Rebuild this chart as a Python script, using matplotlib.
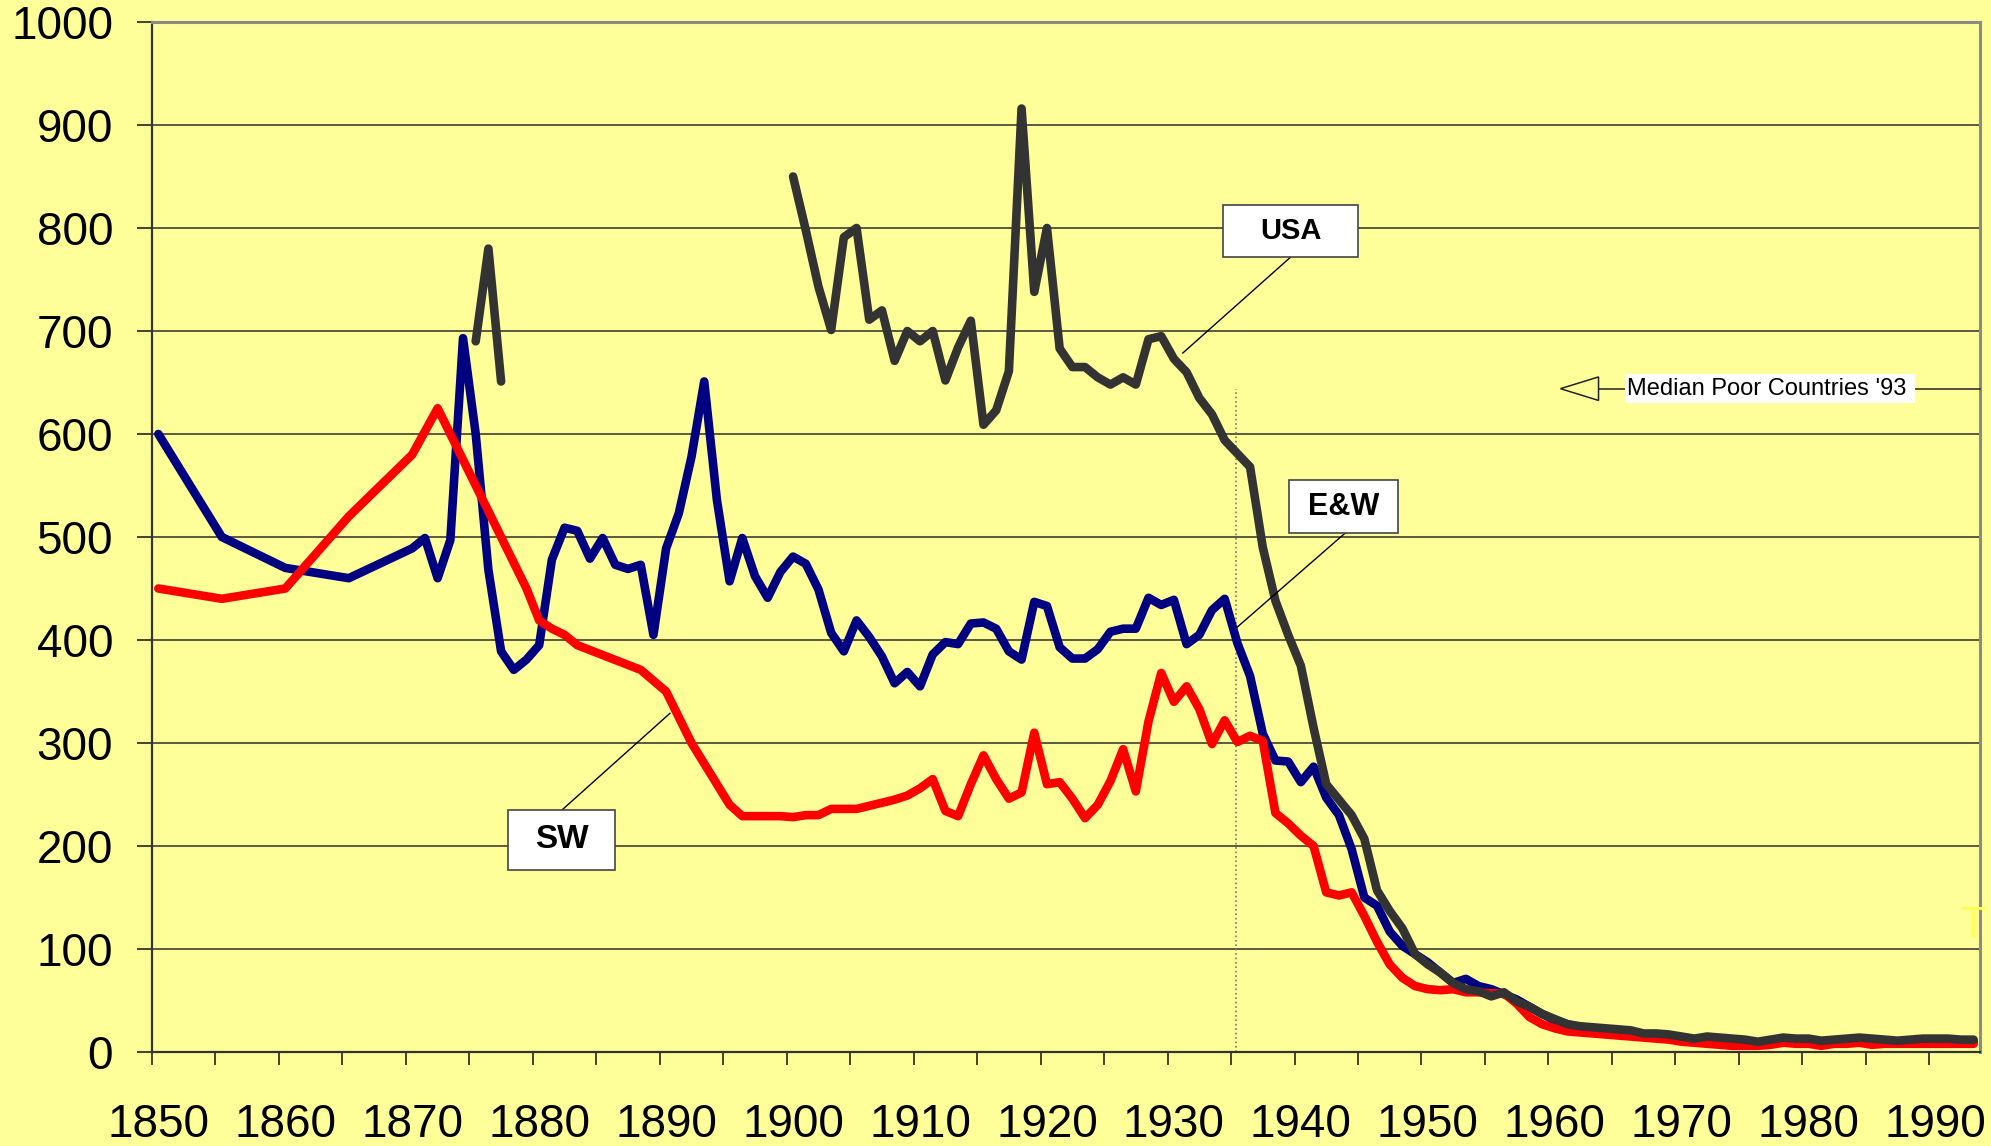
import numpy as np
import matplotlib
matplotlib.use("Agg")
import matplotlib.pyplot as plt
from matplotlib.patches import Rectangle, Polygon
from matplotlib.ticker import FixedLocator, NullFormatter

plt.rcParams['font.family'] = ['Liberation Sans', 'DejaVu Sans']

# ---------------- data ----------------
ew_years = [1850, 1855, 1860, 1865, 1870, 1871, 1872, 1873, 1874, 1875, 1876, 1877, 1878, 1879,
            1880, 1881, 1882, 1883, 1884, 1885, 1886, 1887, 1888, 1889, 1890, 1891, 1892, 1893,
            1894, 1895, 1896, 1897, 1898, 1899, 1900, 1901, 1902, 1903, 1904, 1905, 1906, 1907,
            1908, 1909, 1910, 1911, 1912, 1913, 1914, 1915, 1916, 1917, 1918, 1919, 1920, 1921,
            1922, 1923, 1924, 1925, 1926, 1927, 1928, 1929, 1930, 1931, 1932, 1933, 1934, 1935,
            1936, 1937, 1938, 1939, 1940, 1941, 1942, 1943, 1944, 1945, 1946, 1947, 1948, 1949,
            1950, 1951, 1952, 1953, 1954, 1955, 1956, 1957, 1958, 1959, 1960, 1961, 1962, 1963,
            1964, 1965, 1966, 1967, 1968, 1969, 1970, 1971, 1972, 1973, 1974, 1975, 1976, 1977,
            1978, 1979, 1980, 1981, 1982, 1983, 1984, 1985, 1986, 1987, 1988, 1989, 1990, 1991,
            1992, 1993]
ew_values = [600, 500, 470, 460, 489, 499, 460, 497, 693, 600, 468, 389, 371, 381,
             395, 478, 509, 506, 479, 499, 473, 469, 473, 405, 489, 523, 578, 651,
             536, 457, 499, 462, 441, 466, 481, 474, 449, 407, 389, 419, 403, 384,
             358, 369, 355, 386, 398, 396, 416, 417, 411, 389, 381, 437, 433, 393,
             382, 382, 391, 408, 411, 411, 441, 434, 439, 396, 405, 429, 440, 397,
             365, 309, 283, 282, 262, 277, 247, 230, 197, 150, 142, 117, 103, 95,
             87, 77, 67, 71, 64, 61, 56, 51, 44, 37, 31, 27, 24, 22,
             21, 20, 18, 17, 16, 15, 13, 12, 12, 11, 11, 10, 9, 10,
             11, 11, 11, 9, 10, 10, 11, 10, 10, 9, 10, 10, 10, 10,
             10, 10]

sw_years = [1850, 1855, 1860, 1865, 1870, 1872, 1879, 1880, 1881, 1882, 1883, 1888, 1890, 1892,
            1895, 1896, 1899, 1900, 1901, 1902, 1903, 1905, 1906, 1908, 1909, 1910, 1911, 1912,
            1913, 1914, 1915, 1916, 1917, 1918, 1919, 1920, 1921, 1922, 1923, 1924, 1925, 1926,
            1927, 1928, 1929, 1930, 1931, 1932, 1933, 1934, 1935, 1936, 1937, 1938, 1939, 1940,
            1941, 1942, 1943, 1944, 1945, 1946, 1947, 1948, 1949, 1950, 1951, 1952, 1953, 1954,
            1955, 1956, 1957, 1958, 1959, 1960, 1961, 1962, 1963, 1964, 1965, 1966, 1967, 1968,
            1969, 1970, 1971, 1972, 1973, 1974, 1975, 1976, 1977, 1978, 1979, 1980, 1981, 1982,
            1983, 1984, 1985, 1986, 1987, 1988, 1989, 1990, 1991, 1992, 1993]
sw_values = [450, 440, 450, 520, 580, 625, 450, 419, 411, 405, 395, 371, 350, 300,
             240, 229, 229, 228, 230, 230, 236, 236, 239, 245, 249, 256, 265, 234,
             229, 260, 288, 265, 246, 252, 310, 260, 262, 246, 227, 240, 263, 294,
             253, 321, 368, 340, 355, 333, 299, 322, 301, 307, 302, 232, 222, 210,
             200, 155, 152, 155, 132, 107, 85, 72, 64, 61, 60, 61, 58, 58,
             57, 57, 47, 34, 27, 23, 20, 19, 18, 17, 16, 15, 14, 13,
             12, 10, 9, 8, 7, 6, 6, 6, 7, 9, 8, 8, 6, 8,
             8, 9, 7, 8, 8, 8, 8, 8, 8, 8, 8]

usa_years = [1875, 1876, 1877, 1878,
             1900, 1901, 1902, 1903, 1904, 1905, 1906, 1907, 1908, 1909, 1910, 1911, 1912, 1913,
             1914, 1915, 1916, 1917, 1918, 1919, 1920, 1921, 1922, 1923, 1924, 1925, 1926, 1927,
             1928, 1929, 1930, 1931, 1932, 1933, 1934, 1935, 1936, 1937, 1938, 1939, 1940, 1941,
             1942, 1943, 1944, 1945, 1946, 1947, 1948, 1949, 1950, 1951, 1952, 1953, 1954, 1955,
             1956, 1957, 1958, 1959, 1960, 1961, 1962, 1963, 1964, 1965, 1966, 1967, 1968, 1969,
             1970, 1971, 1972, 1973, 1974, 1975, 1976, 1977, 1978, 1979, 1980, 1981, 1982, 1983,
             1984, 1985, 1986, 1987, 1988, 1989, 1990, 1991, 1992, 1993]
usa_values = [690, 780, 651, np.nan,
              850, 798, 743, 701, 791, 800, 711, 720, 671, 700, 690, 700, 652, 684,
              710, 609, 623, 661, 916, 738, 800, 683, 665, 665, 655, 648, 655, 648,
              692, 695, 673, 660, 635, 619, 594, 581, 568, 490, 438, 405, 375, 315,
              260, 245, 230, 207, 157, 137, 120, 95, 85, 77, 67, 61, 59, 54,
              58, 49, 44, 37, 32, 27, 25, 24, 23, 22, 21, 18, 18, 17,
              15, 13, 15, 14, 13, 12, 10, 12, 14, 13, 13, 11, 12, 13,
              14, 13, 12, 11, 12, 13, 13, 13, 12, 12]

median_poor_93 = 644
x_labels = ['1850', '1860', '1870', '1880', '1890', '1900', '1910', '1920',
            '1930', '1940', '1950', '1960', '1970', '1980', '1990']
y_ticks = [0, 100, 200, 300, 400, 500, 600, 700, 800, 900, 1000]

# ---------------- figure ----------------
BG = '#FFFF99'
fig = plt.figure(figsize=(19.91, 11.46), dpi=100, facecolor=BG)
ax = fig.add_axes([152/1991, 1 - 1052/1146, (1980 - 152)/1991, (1052 - 22)/1146])
ax.set_facecolor(BG)

# categories are centred between tick marks (offset 0.5)
off = 0.5
ax.plot(np.array(ew_years) + off, ew_values, color='#000080', lw=6.2,
        solid_joinstyle='round', solid_capstyle='round', zorder=3)
ax.plot(np.array(sw_years) + off, sw_values, color='#FF0000', lw=6.2,
        solid_joinstyle='round', solid_capstyle='round', zorder=4)
ax.plot(np.array(usa_years) + off, usa_values, color='#333333', lw=6.2,
        solid_joinstyle='round', solid_capstyle='round', zorder=5)

ax.set_xlim(1850, 1994)
ax.set_ylim(0, 1000)

# grid
ax.set_yticks(y_ticks)
ax.set_yticklabels([str(v) for v in y_ticks])
ax.yaxis.grid(True, color='#4d4d3a', lw=1.3, zorder=1)
ax.set_axisbelow(True)

# x ticks: marks at boundaries every 5 years, labels at category centres
ax.xaxis.set_major_locator(FixedLocator(np.arange(1850, 1991, 5)))
ax.xaxis.set_major_formatter(NullFormatter())
ax.xaxis.set_minor_locator(FixedLocator([int(l) + off for l in x_labels]))
ax.set_xticklabels(x_labels, minor=True)
ax.tick_params(axis='x', which='major', direction='out', length=9.5, width=1.2, color='#222222')
ax.tick_params(axis='x', which='minor', length=0, pad=37, labelsize=33)
ax.tick_params(axis='y', direction='out', length=11, width=1.2, color='#222222', pad=17, labelsize=33)

for s in ['left', 'bottom']:
    ax.spines[s].set_color('#333333')
    ax.spines[s].set_linewidth(1.6)
for s in ['top', 'right']:
    ax.spines[s].set_color('#8a8a8a')
    ax.spines[s].set_linewidth(2.2)

# vertical dotted line at 1935
ax.plot([1935.4, 1935.4], [0, median_poor_93], color='#777777', lw=1.2, ls=':', zorder=2)

# Median poor countries marker
ax.plot([1963.95, 1994], [median_poor_93, median_poor_93], color='#222222', lw=1.1, zorder=6, clip_on=False)
tri = Polygon([[1960.95, median_poor_93], [1963.95, median_poor_93 + 11.4],
               [1963.95, median_poor_93 - 11.4]], closed=True, fill=False,
              edgecolor='#222222', lw=1.1, zorder=6)
ax.add_patch(tri)
ax.add_patch(Rectangle((1966.0, median_poor_93 - 14.3), 1988.85 - 1966.0, 28.6,
                       facecolor='white', edgecolor='none', zorder=7))
ax.text(1966.2, median_poor_93, "Median Poor Countries '93", fontsize=17,
        ha='left', va='center', zorder=8)

# labelled boxes with leader lines
def label_box(x0, x1, y0, y1, text, size, leader):
    ax.plot(leader[0], leader[1], color='black', lw=1.0, zorder=7)
    ax.add_patch(Rectangle((x0, y0), x1 - x0, y1 - y0, facecolor='white',
                           edgecolor='#444444', lw=1.2, zorder=8))
    ax.text((x0 + x1) / 2, (y0 + y1) / 2, text, fontsize=size, fontweight='bold',
            ha='center', va='center', zorder=9)

label_box(1934.40, 1945.04, 771.8, 822.3, 'USA', 21, ([1939.7, 1931.2], [771.8, 678.6]))
label_box(1939.60, 1948.19, 503.9, 555.3, 'E&W', 22, ([1944.0, 1935.47], [503.9, 412.3]))
label_box(1878.05, 1886.49, 176.7, 235.0, 'SW', 24, ([1882.3, 1890.8], [235.0, 328.8]))

# faint stray glyph at right edge
fig.text(1974/1991, 1 - 927/1146, 'T', color='#FFFF55', fontsize=32, ha='center', va='center')

fig.savefig('out.png', dpi=100, facecolor=BG)
